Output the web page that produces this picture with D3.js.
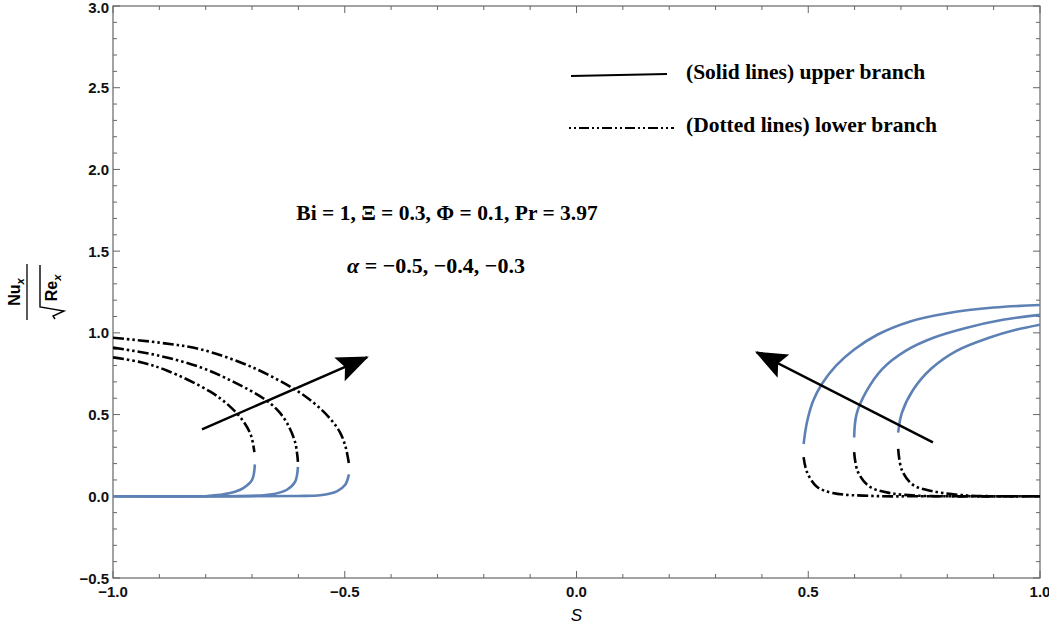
<!DOCTYPE html>
<html>
<head>
<meta charset="utf-8">
<script src="https://cdn.jsdelivr.net/npm/d3@7"></script>
<style>
  body { margin: 0; background: #fff; }
  .tick-label { font-family: "Liberation Sans", Arial, sans-serif; font-weight: bold; font-size: 15px; fill: #111; }
  .note { font-family: "Liberation Serif", "Times New Roman", serif; font-weight: bold; fill: #000; }
</style>
</head>
<body>
<svg id="chart"></svg>
<script>
(function() {

const sTicks = [-1.0, -0.5, 0.0, 0.5, 1.0];
const yTicks = [-0.5, 0.0, 0.5, 1.0, 1.5, 2.0, 2.5, 3.0];
const alphas = [-0.5, -0.4, -0.3];

// upper (solid) branches, S < 0
const upperLeftA = [[-1,0],[-0.7,0],[-0.6,0.002],[-0.553,0.006],[-0.517,0.03],[-0.499,0.07],[-0.491,0.134]];
const upperLeftB = [[-1,0],[-0.75,0],[-0.69,0.004],[-0.661,0.01],[-0.625,0.04],[-0.607,0.09],[-0.601,0.18]];
const upperLeftC = [[-1,0],[-0.85,0],[-0.797,0.002],[-0.747,0.02],[-0.719,0.05],[-0.700,0.10],[-0.694,0.195]];
// lower (dotted) branches, S < 0
const lowerLeftA = [[-1,0.97],[-0.9,0.94],[-0.812,0.90],[-0.7,0.79],[-0.6,0.64],[-0.56,0.555],[-0.53,0.47],[-0.51,0.39],[-0.498,0.30],[-0.491,0.20]];
const lowerLeftB = [[-1,0.91],[-0.9,0.86],[-0.812,0.79],[-0.74,0.70],[-0.676,0.60],[-0.646,0.53],[-0.625,0.45],[-0.607,0.33],[-0.601,0.21]];
const lowerLeftC = [[-1,0.85],[-0.94,0.82],[-0.884,0.77],[-0.79,0.64],[-0.748,0.55],[-0.719,0.46],[-0.702,0.37],[-0.695,0.27]];
// upper (solid) branches, S > 0
const upperRightD = [[0.490,0.32],[0.497,0.45],[0.51,0.58],[0.53,0.69],[0.56,0.80],[0.60,0.90],[0.65,0.99],[0.72,1.07],[0.80,1.12],[0.90,1.155],[1,1.17]];
const upperRightE = [[0.599,0.36],[0.604,0.50],[0.625,0.64],[0.66,0.78],[0.71,0.89],[0.77,0.97],[0.84,1.03],[0.92,1.08],[1,1.11]];
const upperRightF = [[0.694,0.39],[0.702,0.51],[0.726,0.65],[0.765,0.78],[0.82,0.89],[0.89,0.97],[0.95,1.02],[1,1.05]];
// lower (dotted) branches, S > 0
const lowerRightD = [[0.490,0.24],[0.497,0.15],[0.518,0.06],[0.553,0.02],[0.64,0.002],[0.75,0],[1,0]];
const lowerRightE = [[0.599,0.27],[0.607,0.15],[0.632,0.06],[0.676,0.02],[0.74,0.003],[0.85,0],[1,0]];
const lowerRightF = [[0.694,0.29],[0.702,0.16],[0.726,0.07],[0.770,0.03],[0.843,0.005],[0.92,0],[1,0]];

// direction arrows (tail -> tip)
const arrowLeft = [[-0.808,0.41],[-0.452,0.85]];
const arrowRight = [[0.769,0.33],[0.389,0.88]];

const blue = "#5E81B5";
const frameColor = "#666";
const dashDotDot = "11,3,2.5,3,2.5,3";

const width = 1049, height = 629;
const margin = {left: 113, right: 9, top: 6, bottom: 51};

const svg = d3.select("#chart").attr("width", width).attr("height", height);

const x = d3.scaleLinear().domain([-1, 1]).range([margin.left, width - margin.right]);
const y = d3.scaleLinear().domain([-0.5, 3]).range([height - margin.bottom, margin.top]);

svg.append("defs").append("clipPath").attr("id", "plot-clip")
    .append("rect")
    .attr("x", x(-1)).attr("y", y(3))
    .attr("width", x(1) - x(-1)).attr("height", y(-0.5) - y(3));

// frame
svg.append("rect")
    .attr("x", x(-1)).attr("y", y(3))
    .attr("width", x(1) - x(-1)).attr("height", y(-0.5) - y(3))
    .attr("fill", "none").attr("stroke", frameColor).attr("stroke-width", 1.2);

// ticks on all four sides, pointing inwards
const minorS = d3.range(-10, 11).map(i => i / 10);
const minorY = d3.range(-5, 31).map(i => i / 10);
const isMajor = v => Math.abs(v * 2 - Math.round(v * 2)) < 1e-6;

minorS.forEach(v => {
    const len = isMajor(v) ? 7 : 4;
    svg.append("line").attr("x1", x(v)).attr("x2", x(v))
        .attr("y1", y(-0.5)).attr("y2", y(-0.5) - len)
        .attr("stroke", frameColor);
    svg.append("line").attr("x1", x(v)).attr("x2", x(v))
        .attr("y1", y(3)).attr("y2", y(3) + len)
        .attr("stroke", frameColor);
});
minorY.forEach(v => {
    const len = isMajor(v) ? 7 : 4;
    svg.append("line").attr("x1", x(-1)).attr("x2", x(-1) + len)
        .attr("y1", y(v)).attr("y2", y(v))
        .attr("stroke", frameColor);
    svg.append("line").attr("x1", x(1)).attr("x2", x(1) - len)
        .attr("y1", y(v)).attr("y2", y(v))
        .attr("stroke", frameColor);
});

const fmt = v => d3.format(".1f")(v).replace("-", "\u2212");

svg.selectAll(".xlab").data(sTicks).join("text")
    .attr("class", "tick-label")
    .attr("x", d => x(d)).attr("y", y(-0.5) + 19)
    .attr("text-anchor", "middle")
    .text(fmt);

svg.selectAll(".ylab").data(yTicks).join("text")
    .attr("class", "tick-label")
    .attr("x", x(-1) - 4).attr("y", d => Math.max(y(d) + 5.5, 13))
    .attr("text-anchor", "end")
    .text(fmt);

// axis titles
svg.append("text")
    .attr("x", x(0)).attr("y", 621)
    .attr("text-anchor", "middle")
    .attr("font-family", "Liberation Sans, Arial, sans-serif")
    .attr("font-style", "italic").attr("font-size", "17px")
    .text("S");

const yTitle = svg.append("g").attr("transform", "translate(34,292) rotate(-90)")
    .attr("font-family", "Liberation Sans, Arial, sans-serif")
    .attr("font-weight", "bold");
const num = yTitle.append("text").attr("x", 0).attr("y", -14).attr("text-anchor", "middle").attr("font-size", "16px");
num.append("tspan").text("Nu");
num.append("tspan").attr("font-size", "11px").attr("font-style", "italic").attr("dy", 4).text("x");
yTitle.append("line").attr("x1", -28).attr("x2", 28).attr("y1", -7).attr("y2", -7)
    .attr("stroke", "#000").attr("stroke-width", 1.3);
// radical sign
yTitle.append("path")
    .attr("d", "M-27,21 L-24,19 L-19,30 L-15,6 L27,6")
    .attr("fill", "none").attr("stroke", "#000").attr("stroke-width", 1.4);
const den = yTitle.append("text").attr("x", 4).attr("y", 23).attr("text-anchor", "middle").attr("font-size", "16px");
den.append("tspan").text("Re");
den.append("tspan").attr("font-size", "11px").attr("font-style", "italic").attr("dy", 4).text("x");

// curves
const line = d3.line().x(d => x(d[0])).y(d => y(d[1])).curve(d3.curveCatmullRom.alpha(0.5));
const plot = svg.append("g").attr("clip-path", "url(#plot-clip)");

const upperSeries = [upperLeftA, upperLeftB, upperLeftC, upperRightD, upperRightE, upperRightF];
const lowerSeries = [lowerLeftA, lowerLeftB, lowerLeftC, lowerRightD, lowerRightE, lowerRightF];

plot.selectAll(".upper").data(upperSeries).join("path")
    .attr("class", "upper")
    .attr("d", line)
    .attr("fill", "none").attr("stroke", blue).attr("stroke-width", 2.6);

plot.selectAll(".lower").data(lowerSeries).join("path")
    .attr("class", "lower")
    .attr("d", line)
    .attr("fill", "none").attr("stroke", "#000").attr("stroke-width", 2.6)
    .attr("stroke-dasharray", dashDotDot);

// arrows
svg.select("defs").append("marker")
    .attr("id", "head")
    .attr("viewBox", "0 0 32 26")
    .attr("refX", 30).attr("refY", 13)
    .attr("markerUnits", "userSpaceOnUse")
    .attr("markerWidth", 32).attr("markerHeight", 26)
    .attr("orient", "auto")
    .append("path").attr("d", "M0,0 L32,13 L0,26 L6,13 Z").attr("fill", "#000");

[arrowLeft, arrowRight].forEach(a => {
    svg.append("line")
        .attr("x1", x(a[0][0])).attr("y1", y(a[0][1]))
        .attr("x2", x(a[1][0])).attr("y2", y(a[1][1]))
        .attr("stroke", "#000").attr("stroke-width", 2.5)
        .attr("marker-end", "url(#head)");
});

// legend
const legend = svg.append("g");
legend.append("line").attr("x1", 571).attr("y1", 76).attr("x2", 667).attr("y2", 74)
    .attr("stroke", "#000").attr("stroke-width", 2.2);
legend.append("text").attr("class", "note").attr("x", 686).attr("y", 79)
    .attr("font-size", "21.5px").text("(Solid lines) upper branch");
legend.append("line").attr("x1", 569).attr("y1", 128).attr("x2", 674).attr("y2", 128)
    .attr("stroke", "#000").attr("stroke-width", 2.2)
    .attr("stroke-dasharray", "2,3,2,3,10,3");
legend.append("text").attr("class", "note").attr("x", 686).attr("y", 132)
    .attr("font-size", "21.5px").text("(Dotted lines) lower branch");

// parameter notes
svg.append("text").attr("class", "note")
    .attr("x", 447).attr("y", 220).attr("text-anchor", "middle")
    .attr("font-size", "21.5px")
    .text("Bi = 1, \u039E = 0.3, \u03A6 = 0.1, Pr = 3.97");

const alphaNote = svg.append("text").attr("class", "note")
    .attr("x", 436).attr("y", 273).attr("text-anchor", "middle")
    .attr("font-size", "22px");
alphaNote.append("tspan").attr("font-style", "italic").text("\u03B1");
alphaNote.append("tspan").text(" = " + alphas.map(a => a.toFixed(1).replace("-", "\u2212")).join(", "));

})();
</script>
</body>
</html>
